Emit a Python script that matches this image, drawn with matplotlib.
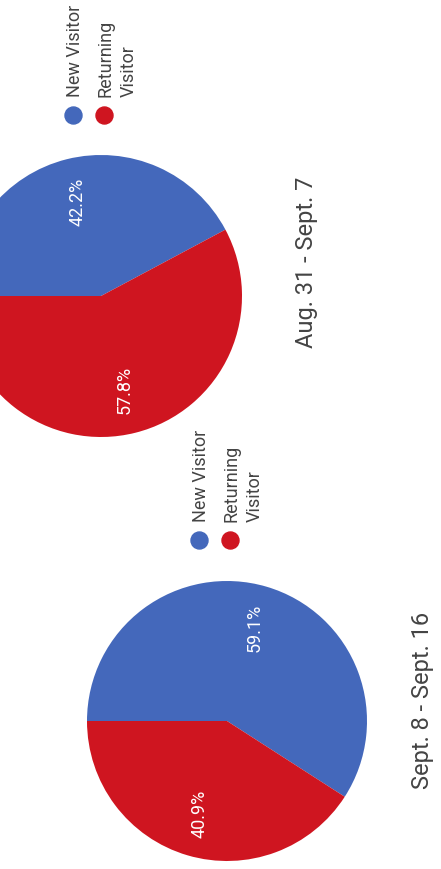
import matplotlib
matplotlib.use("Agg")
import matplotlib.pyplot as plt

# data
periods = ["Aug. 31 - Sept. 7", "Sept. 8 - Sept. 16"]
categories = ["New Visitor", "Returning Visitor"]
legend_lines = [["New Visitor"], ["Returning", "Visitor"]]
new_visitor = [42.2, 59.1]
returning_visitor = [57.8, 40.9]

colors = ["#4468bb", "#cf1520"]
text_color = "#444444"

plt.rcParams["font.family"] = ["Roboto", "DejaVu Sans"]

W, H = 441, 869
fig = plt.figure(figsize=(W / 100, H / 100), dpi=100)
ax = fig.add_axes([0, 0, 1, 1])

# the whole chart is turned 90 degrees (reads bottom to top)
panels = [
    dict(center=(101, H - 296), r=141, leg=(73, H - 115), title=(307, H - 262)),
    dict(center=(227, H - 721), r=140, leg=(199, H - 540), title=(423, H - 700)),
]

for i, p in enumerate(panels):
    vals = [new_visitor[i], returning_visitor[i]]
    wedges, texts, autotexts = ax.pie(
        vals, colors=colors, startangle=180, counterclock=False,
        center=p["center"], radius=p["r"], autopct="%1.1f%%",
        pctdistance=0.69, frame=True,
        textprops={"color": "white", "fontsize": 13, "rotation": 90},
    )
    for t in autotexts:
        t.set_ha("center")
        t.set_va("center")

    # legend drawn by hand, rotated
    lx, ly = p["leg"]
    for j, (c, lines) in enumerate(zip(colors, legend_lines)):
        x = lx + j * 31
        ax.scatter([x], [ly], s=150, color=c, zorder=3)
        for k, line in enumerate(lines):
            ax.text(x + 2 + k * 23, ly + 18, line, rotation=90,
                    rotation_mode="anchor", ha="left", va="center",
                    fontsize=13, color=text_color)

    tx, ty = p["title"]
    ax.text(tx, ty, periods[i], rotation=90, ha="center", va="center",
            fontsize=17, color=text_color)

ax.set_xlim(0, W)
ax.set_ylim(0, H)
ax.set_aspect("equal")
ax.axis("off")
fig.savefig("out.png", dpi=100, facecolor="white")
